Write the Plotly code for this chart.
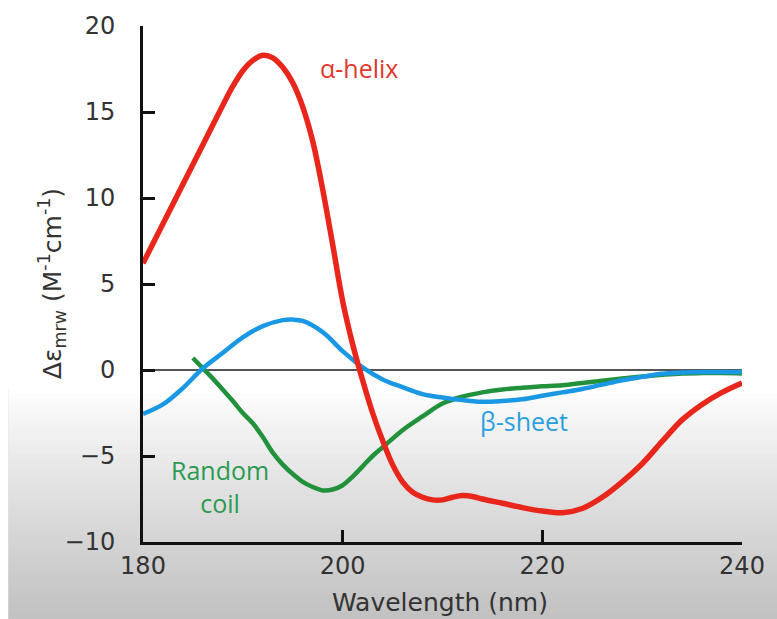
import plotly.graph_objects as go

# ---- data ----
helix_x = [180, 182, 184, 186, 188, 189, 190, 191, 192, 193, 194, 195, 196, 197, 198, 199, 200, 201, 202, 203,
           204, 205, 206, 207, 208, 209, 210, 211, 212, 213, 214, 216, 218, 220, 222, 224, 226, 228, 230,
           232, 234, 236, 238, 240]
helix_y = [6.2, 8.5, 10.8, 13.1, 15.4, 16.5, 17.4, 18.0, 18.3, 18.15, 17.6, 16.7, 15.3, 13.3, 10.5, 7.3, 4.0,
           1.5, -0.6, -2.5, -4.1, -5.5, -6.5, -7.1, -7.4, -7.55, -7.55, -7.4, -7.3, -7.35, -7.5, -7.75, -8.0,
           -8.2, -8.3, -8.05, -7.4, -6.5, -5.45, -4.15, -2.9, -2.0, -1.3, -0.75]

sheet_x = [180, 182, 184, 186, 188, 190, 192, 194, 195, 196, 198, 200, 202, 204, 206, 208, 210, 212, 214,
           216, 218, 220, 222, 224, 226, 228, 230, 232, 234, 236, 238, 240]
sheet_y = [-2.55, -2.0, -1.05, 0.1, 1.0, 1.9, 2.55, 2.9, 2.93, 2.85, 2.2, 1.1, 0.15, -0.55, -1.0, -1.4, -1.6,
           -1.75, -1.85, -1.8, -1.7, -1.5, -1.3, -1.1, -0.85, -0.6, -0.4, -0.22, -0.15, -0.12, -0.12, -0.12]

coil_x = [185, 186, 187, 188, 189, 190, 191, 192, 193, 194, 195, 196, 197, 198, 199, 200, 201, 202, 203,
          204, 206, 208, 210, 212, 214, 216, 218, 220, 222, 224, 226, 228, 230, 232, 234, 236, 238, 240]
coil_y = [0.7, 0.1, -0.5, -1.15, -1.8, -2.5, -3.1, -3.9, -4.8, -5.5, -6.05, -6.5, -6.8, -7.0, -6.95, -6.7,
          -6.2, -5.6, -5.0, -4.5, -3.5, -2.7, -1.95, -1.55, -1.3, -1.13, -1.03, -0.95, -0.88, -0.75, -0.62,
          -0.5, -0.38, -0.28, -0.2, -0.18, -0.18, -0.2]

x_ticks = [180, 200, 220, 240]
y_ticks = [-10, -5, 0, 5, 10, 15, 20]

labels = ["α-helix", "β-sheet", "Random<br>coil"]
label_x = [201.6, 218.15, 187.7]
label_y = [17.57, -2.95, -6.76]

RED = "#e8261c"
BLUE = "#1b98e4"
GREEN = "#22913c"

fig = go.Figure()
fig.add_trace(go.Scatter(x=coil_x, y=coil_y, mode="lines",
                         line=dict(color=GREEN, width=4.5, shape="spline", smoothing=1.0), showlegend=False))
fig.add_trace(go.Scatter(x=sheet_x, y=sheet_y, mode="lines",
                         line=dict(color=BLUE, width=4.5, shape="spline", smoothing=1.0), showlegend=False))
fig.add_trace(go.Scatter(x=helix_x, y=helix_y, mode="lines",
                         line=dict(color=RED, width=5.5, shape="spline", smoothing=1.0), showlegend=False))

# label annotations
label_colors = ["#e3372b", "#2a9fe0", "#2b9a50"]
for t, xx, yy, c in zip(labels, label_x, label_y, label_colors):
    fig.add_annotation(x=xx, y=yy, xref="x", yref="y", text=t, showarrow=False,
                       font=dict(family="Open Sans", size=25, color=c), align="center")

# axis titles as annotations
fig.add_annotation(x=-0.1517, y=0.5, xref="paper", yref="paper", textangle=-90,
                   text="Δε<sub>mrw</sub> (M<sup>-1</sup>cm<sup>-1</sup>)", showarrow=False,
                   xanchor="center", yanchor="middle",
                   font=dict(family="DejaVu Sans", size=25, color="#333333"))
fig.add_annotation(x=0.495, y=-0.1175, xref="paper", yref="paper",
                   text="Wavelength (nm)", showarrow=False, xanchor="center", yanchor="middle",
                   font=dict(family="DejaVu Sans", size=25, color="#333333"))

# background: grey paper, white top area, gradient strips, white left edge strip
L, R, T, B = 143, 743, 23, 542
W, H = 777, 619


def px_y(p):
    return (B - p) / (B - T)


def px_x(p):
    return (p - L) / (R - L)


top_px, bot_px = 388, 619
fig.add_shape(type="rect", xref="paper", yref="paper", x0=px_x(-20), x1=px_x(W + 20),
              y0=px_y(top_px + 0.5), y1=px_y(-20), fillcolor="white", line=dict(width=0), layer="below")
n = 46
for i in range(n):
    p0 = top_px + (bot_px - top_px) * i / n
    p1 = top_px + (bot_px - top_px) * (i + 1) / n
    t = (i + 0.5) / n
    g = int(round(255 - 62 * t ** 0.9))
    fig.add_shape(type="rect", xref="paper", yref="paper",
                  x0=px_x(8), x1=px_x(W + 20),
                  y0=px_y(p1 + 0.5), y1=px_y(p0),
                  fillcolor=f"rgb({g},{g},{g})", line=dict(width=0), layer="below")
fig.add_shape(type="rect", xref="paper", yref="paper", x0=px_x(-20), x1=px_x(8),
              y0=px_y(H + 20), y1=px_y(top_px), fillcolor="white", line=dict(width=0), layer="below")

fig.update_layout(
    width=W, height=H,
    margin=dict(l=L, r=W - R, t=T, b=H - B),
    paper_bgcolor="rgb(193,193,193)", plot_bgcolor="rgba(0,0,0,0)",
    font=dict(family="DejaVu Sans", size=24, color="#333333"),
)
fig.update_xaxes(range=[180, 240], tickvals=x_ticks, ticks="inside", ticklen=12, tickwidth=3,
                 tickcolor="#111111", showline=True, linecolor="#111111", linewidth=3,
                 showgrid=False, zeroline=False, ticklabelstandoff=0,
                 tickfont=dict(family="DejaVu Sans", size=24, color="#333333"))
fig.update_yaxes(range=[-10, 20], tickvals=y_ticks, ticks="inside", ticklen=12, tickwidth=3,
                 tickcolor="#111111", showline=True, linecolor="#111111", linewidth=3,
                 showgrid=False, zeroline=True, zerolinecolor="#555555", zerolinewidth=2,
                 ticklabelstandoff=20,
                 tickfont=dict(family="DejaVu Sans", size=24, color="#333333"))

fig.write_html("out.html")
